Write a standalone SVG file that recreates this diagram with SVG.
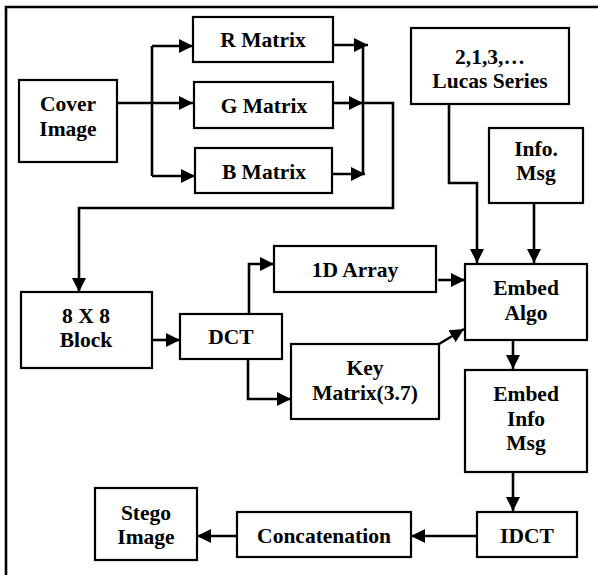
<svg xmlns="http://www.w3.org/2000/svg" width="598" height="575" viewBox="0 0 598 575">
<defs>
<style>
.box{fill:#fff;stroke:#000;stroke-width:2.2}
.t{font-family:"Liberation Serif","Times New Roman",serif;font-weight:bold;font-size:21.5px;text-anchor:middle;fill:#000}
.c{fill:none;stroke:#000;stroke-width:2.6}
</style>
<marker id="ah" markerUnits="userSpaceOnUse" markerWidth="16" markerHeight="14" refX="14" refY="7" orient="auto">
<path d="M0,0 L14,7 L0,14 Z" fill="#000"/>
</marker>
</defs>
<rect width="598" height="575" fill="#fff"/>
<path d="M6,600 L6,7 L600,7" fill="none" stroke="#000" stroke-width="2.6"/>
<g id="connectors">
<path class="c" d="M117,103 L193,103" marker-end="url(#ah)"/>
<path class="c" d="M152,46 L152,176"/>
<path class="c" d="M152,46 L193,46" marker-end="url(#ah)"/>
<path class="c" d="M152,176 L195,176" marker-end="url(#ah)"/>
<path class="c" d="M330,45 L368,45" marker-end="url(#ah)"/>
<path class="c" d="M363,45 L363,174"/>
<path class="c" d="M333,103 L363,103" marker-end="url(#ah)"/>
<path class="c" d="M326,174 L365,174" marker-end="url(#ah)"/>
<path class="c" d="M363,103 L393,103 L393,208 L79,208 L79,292" marker-end="url(#ah)"/>
<path class="c" d="M449,104 L449,183 L477,183 L477,263" marker-end="url(#ah)"/>
<path class="c" d="M534,203 L534,263" marker-end="url(#ah)"/>
<path class="c" d="M152,340 L180,340" marker-end="url(#ah)"/>
<path class="c" d="M249,314 L249,264 L274,264" marker-end="url(#ah)"/>
<path class="c" d="M248,359 L248,399 L291,399" marker-end="url(#ah)"/>
<path class="c" d="M438,280 L465,280" marker-end="url(#ah)"/>
<path class="c" d="M439,344 L464,329" marker-end="url(#ah)"/>
<path class="c" d="M513,340 L513,369" marker-end="url(#ah)"/>
<path class="c" d="M513,472 L513,511" marker-end="url(#ah)"/>
<path class="c" d="M477,536 L411,536" marker-end="url(#ah)"/>
<path class="c" d="M237,536 L197,536" marker-end="url(#ah)"/>
</g>
<g id="cover"><rect class="box" x="19" y="80" width="98" height="82"/><text class="t" x="68" y="111">Cover</text><text class="t" x="68" y="136">Image</text></g>
<g id="rmatrix"><rect class="box" x="193" y="17" width="140" height="45"/><text class="t" x="263" y="47">R Matrix</text></g>
<g id="gmatrix"><rect class="box" x="194" y="82" width="139" height="46"/><text class="t" x="264" y="113">G Matrix</text></g>
<g id="bmatrix"><rect class="box" x="195" y="148" width="137" height="45"/><text class="t" x="264" y="179">B Matrix</text></g>
<g id="lucas"><rect class="box" x="411" y="28" width="158" height="76"/><text class="t" x="490" y="64">2,1,3,…</text><text class="t" x="490" y="88">Lucas Series</text></g>
<g id="info"><rect class="box" x="489" y="128" width="94" height="75"/><text class="t" x="536" y="156">Info.</text><text class="t" x="536" y="180">Msg</text></g>
<g id="block"><rect class="box" x="21" y="292" width="131" height="76"/><text class="t" x="86" y="323">8 X 8</text><text class="t" x="86" y="347">Block</text></g>
<g id="dct"><rect class="box" x="180" y="314" width="102" height="45"/><text class="t" x="231" y="344">DCT</text></g>
<g id="array1d"><rect class="box" x="274" y="246" width="162" height="46"/><text class="t" x="355" y="277">1D Array</text></g>
<g id="keymatrix"><rect class="box" x="291" y="344" width="148" height="75"/><text class="t" x="365" y="375">Key</text><text class="t" x="365" y="400">Matrix(3.7)</text></g>
<g id="embedalgo"><rect class="box" x="465" y="264" width="122" height="76"/><text class="t" x="526" y="295">Embed</text><text class="t" x="526" y="320">Algo</text></g>
<g id="embedinfo"><rect class="box" x="465" y="370" width="122" height="102"/><text class="t" x="526" y="401">Embed</text><text class="t" x="526" y="426">Info</text><text class="t" x="526" y="450">Msg</text></g>
<g id="idct"><rect class="box" x="477" y="512" width="100" height="45"/><text class="t" x="527" y="543">IDCT</text></g>
<g id="concat"><rect class="box" x="237" y="512" width="174" height="45"/><text class="t" x="324" y="543">Concatenation</text></g>
<g id="stego"><rect class="box" x="95" y="488" width="102" height="72"/><text class="t" x="146" y="520">Stego</text><text class="t" x="146" y="544">Image</text></g>
</svg>
